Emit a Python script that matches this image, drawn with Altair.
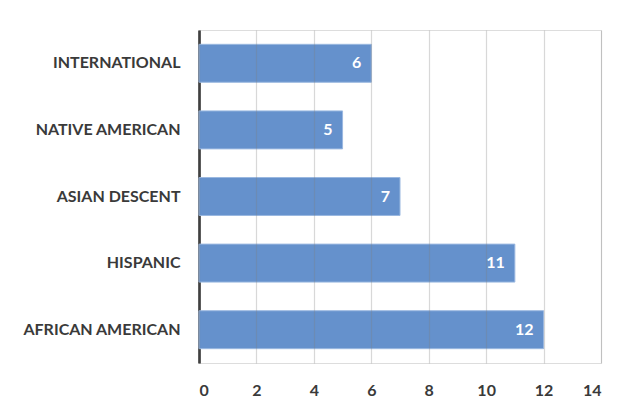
import altair as alt
import pandas as pd

categories = ["INTERNATIONAL", "NATIVE AMERICAN", "ASIAN DESCENT", "HISPANIC", "AFRICAN AMERICAN"]
values = [6, 5, 7, 11, 12]
x_ticks = [0, 2, 4, 6, 8, 10, 12, 14]

df = pd.DataFrame({"cat": categories, "val": values})

FONT = "Lato"

y_enc = alt.Y("cat:N", sort=categories,
              scale=alt.Scale(paddingInner=0.43, paddingOuter=0.215),
              axis=alt.Axis(title=None, domain=True, domainColor="#262626", domainWidth=2.5,
                            ticks=False, labelPadding=19, labelFont=FONT, labelFontWeight="bold",
                            labelFontSize=16, labelColor="#3a3a3a", grid=False))
x_enc = alt.X("val:Q", scale=alt.Scale(domain=[0, 14], nice=False),
              axis=alt.Axis(title=None, values=x_ticks, domain=False, ticks=False,
                            grid=True, gridColor="#7f7f7f", gridOpacity=0.3, gridWidth=1.2,
                            labelPadding=19, labelFont=FONT, labelFontWeight="bold",
                            labelFontSize=16, labelColor="#3a3a3a", zindex=1))

bars = alt.Chart(df).mark_bar(color="#6591cc", stroke="#9ab8e0", strokeWidth=1).encode(x=x_enc, y=y_enc)

text = alt.Chart(df).mark_text(align="right", baseline="middle", dx=-10, color="white",
                               font=FONT, fontWeight="bold", fontSize=16).encode(
    x="val:Q", y=alt.Y("cat:N", sort=categories), text="val:Q")

chart = alt.layer(bars, text).properties(
    width=402, height=333,
    autosize=alt.AutoSizeParams(type="none"),
    padding={"left": 199, "top": 30, "right": 27, "bottom": 49},
).configure_view(stroke=None).configure(background="white")

chart.save("out.html", embed_options={"renderer": "svg", "actions": False})
